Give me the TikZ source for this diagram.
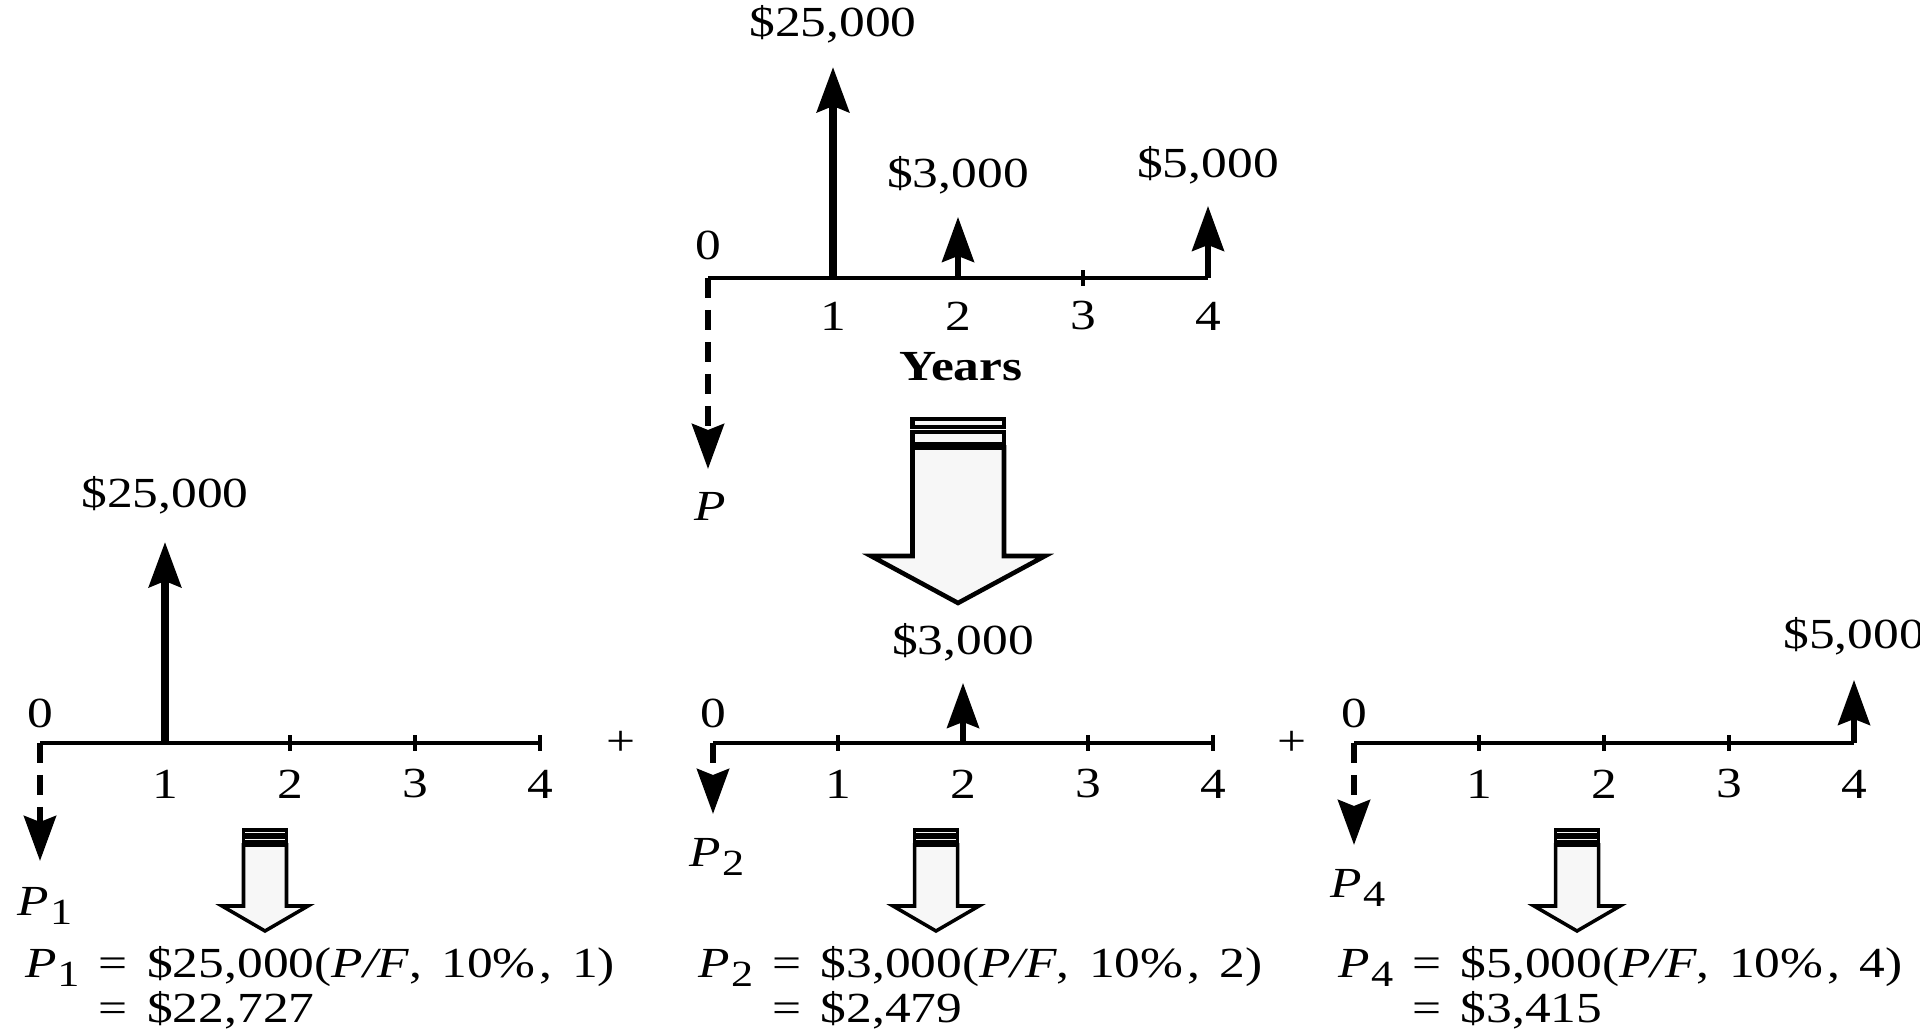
\documentclass[tikz,border=0pt]{standalone}
\usepackage{fontspec}
\setmainfont{Liberation Serif}[FakeStretch=1.2]
\usetikzlibrary{arrows.meta}
\newcommand{\Pn}[1]{\textit{P}\kern.02em\raisebox{-.5ex}{\fontsize{10.5}{10.5}\selectfont #1}}
\newcommand{\pfsep}{,\hspace{0.45em}}
\newcommand{\eqsign}{\hspace{0.45em}=\hspace{0.45em}}

\begin{document}
\begin{tikzpicture}[
    font=\fontsize{12.2}{12.8}\selectfont,
    axis/.style={line width=0.95pt},
    tickmark/.style={line width=0.95pt},
    flow/.style={-{Stealth[length=4.5mm,width=3.2mm,inset=0.6mm]}, line width=1.5pt},
    bigflow/.style={flow, line width=2.2pt},
    pv/.style={flow, line width=1.7pt, dash pattern=on 2mm off 1.2mm},
    hollow/.style={draw, line width=1.3pt, fill=gray!6, line join=miter},
    lbl/.style={inner sep=0pt},
    eqn/.style={inner sep=0pt, anchor=west, align=left},
]
\useasboundingbox (0,0) rectangle (19.2,10.31);

% Top cash flow diagram
\foreach \i in {0,...,4} \coordinate (top\i) at (7.08+1.25*\i, 7.53);
\draw[axis] (top0) -- (top4);
\draw[tickmark] (top3) ++(0,-0.08) -- ++(0,0.16);
\foreach \i in {1,...,4} \node[lbl] (toplab\i) at ([yshift=-0.38cm]top\i) {\i};
\node[lbl] (topzero) at ([yshift=0.33cm]top0) {0};
\node[lbl] (years) at (9.61,6.64) {\textbf{Years}};
\coordinate (topf1) at (8.33,9.64);
\coordinate (topf2) at (9.58,8.14);
\coordinate (topf4) at (12.08,8.25);
\coordinate (topp) at (7.08,5.62);
\node[lbl] (top25) at (8.33,10.07) {\$25,000};
\node[lbl] (top3k) at (9.58,8.56) {\$3,000};
\node[lbl] (top5k) at (12.08,8.66) {\$5,000};
\node[lbl] (toplabp) at (7.10,5.25) {\textit{P}};
\draw[bigflow] (top1) -- (topf1);
\draw[flow] (top2) -- (topf2);
\draw[flow] (top4) -- (topf4);
\draw[pv] (top0) -- (topp);

% Big hollow arrow
\draw[hollow] (9.125,6.12) rectangle (10.04,6.04);
\draw[hollow] (9.125,5.99) rectangle (10.04,5.87);
\draw[hollow] (9.125,5.835) -- (9.125,4.75) -- (8.71,4.75) -- (9.58,4.28)
    -- (10.45,4.75) -- (10.04,4.75) -- (10.04,5.835) -- cycle;

% Bottom left: P1
\foreach \i in {0,...,4} \coordinate (l\i) at (0.40+1.25*\i, 2.88);
\draw[axis] (l0) -- (l4);
\foreach \i in {2,3,4} \draw[tickmark] (l\i) ++(0,-0.08) -- ++(0,0.16);
\foreach \i in {1,...,4} \node[lbl] (llab\i) at ([yshift=-0.41cm]l\i) {\i};
\node[lbl] (lzero) at ([yshift=0.30cm]l0) {0};
\coordinate (lf1) at (1.65,4.89);
\coordinate (lp) at (0.40,1.70);
\node[lbl] (l25) at (1.65,5.36) {\$25,000};
\node[lbl] (llabp) at (0.45,1.25) {\Pn{1}};
\draw[bigflow] (l1) -- (lf1);
\draw[pv] (l0) -- (lp);
\node[lbl] (plus1) at (6.21,2.88) {+};

% Bottom middle: P2
\foreach \i in {0,...,4} \coordinate (m\i) at (7.13+1.25*\i, 2.88);
\draw[axis] (m0) -- (m4);
\foreach \i in {1,3,4} \draw[tickmark] (m\i) ++(0,-0.08) -- ++(0,0.16);
\foreach \i in {1,...,4} \node[lbl] (mlab\i) at ([yshift=-0.41cm]m\i) {\i};
\node[lbl] (mzero) at ([yshift=0.30cm]m0) {0};
\coordinate (mf2) at (9.63,3.48);
\coordinate (mp) at (7.13,2.17);
\node[lbl] (m3k) at (9.63,3.89) {\$3,000};
\node[lbl] (mlabp) at (7.17,1.74) {\Pn{2}};
\draw[flow] (m2) -- (mf2);
\draw[pv] (m0) -- (mp);
\node[lbl] (plus2) at (12.92,2.88) {+};

% Bottom right: P4
\foreach \i in {0,...,4} \coordinate (r\i) at (13.54+1.25*\i, 2.88);
\draw[axis] (r0) -- (r4);
\foreach \i in {1,2,3} \draw[tickmark] (r\i) ++(0,-0.08) -- ++(0,0.16);
\foreach \i in {1,...,4} \node[lbl] (rlab\i) at ([yshift=-0.41cm]r\i) {\i};
\node[lbl] (rzero) at ([yshift=0.30cm]r0) {0};
\coordinate (rf4) at (18.54,3.51);
\coordinate (rp) at (13.54,1.86);
\node[lbl] (r5k) at (18.54,3.95) {\$5,000};
\node[lbl] (rlabp) at (13.58,1.43) {\Pn{4}};
\draw[flow] (r4) -- (rf4);
\draw[pv] (r0) -- (rp);

% Small hollow arrows
\foreach \cx in {2.65,9.36,15.77} {
  \draw[hollow, line width=1pt] (\cx-0.215,2.01) rectangle (\cx+0.215,1.965);
  \draw[hollow, line width=1pt] (\cx-0.215,1.935) rectangle (\cx+0.215,1.89);
  \draw[hollow, line width=1pt] (\cx-0.215,1.86) -- (\cx-0.215,1.25) -- (\cx-0.43,1.25)
      -- (\cx,1.00) -- (\cx+0.43,1.25) -- (\cx+0.215,1.25) -- (\cx+0.215,1.86) -- cycle;
}

% Equations
\node[eqn] (eq1) at (0.245,0.42) {\Pn{1}\eqsign\$25,000(\textit{P/F}\pfsep 10\%\kern.1em\pfsep 1)\\\phantom{\Pn{1}}\eqsign\$22,727};
\node[eqn] (eq2) at (6.98,0.42) {\Pn{2}\eqsign\$3,000(\textit{P/F}\pfsep 10\%\kern.1em\pfsep 2)\\\phantom{\Pn{2}}\eqsign\$2,479};
\node[eqn] (eq4) at (13.38,0.42) {\Pn{4}\eqsign\$5,000(\textit{P/F}\pfsep 10\%\kern.1em\pfsep 4)\\\phantom{\Pn{4}}\eqsign\$3,415};
\end{tikzpicture}
\end{document}
